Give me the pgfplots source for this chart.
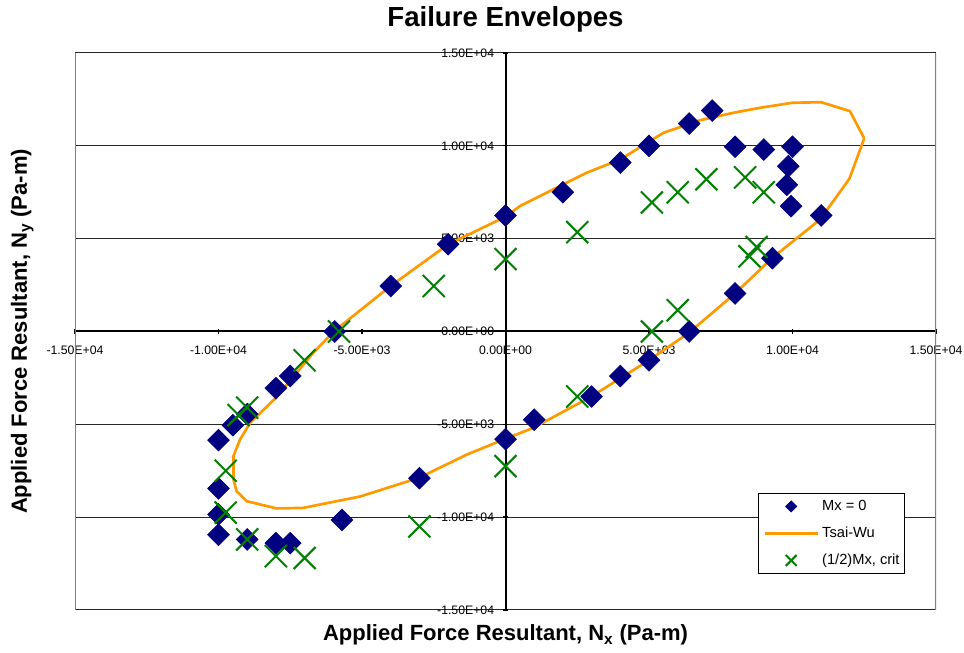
\documentclass[border=0pt]{standalone}
\usepackage{fontspec}
\setmainfont{Liberation Sans}
\usepackage{pgfplots}
\pgfplotsset{compat=1.18}
\definecolor{navyc}{RGB}{0,0,128}
\definecolor{orangec}{RGB}{255,153,0}
\definecolor{greenc}{RGB}{0,128,0}
\definecolor{bordergray}{RGB}{128,128,128}
\pgfplotsset{
  markleg/.style={legend image code/.code={\path (0pt,0pt) (40pt,0pt); \draw[mark repeat=2,mark phase=2,##1] plot coordinates {(0pt,0pt) (20pt,0pt) (40pt,0pt)};}},
  lineleg/.style={legend image code/.code={\draw[##1] (0pt,0pt) -- (40pt,0pt);}},
}
\begin{document}
\begin{tikzpicture}
\begin{axis}[
  scale only axis,
  width=645.75pt, height=417.75pt,
  xmin=-15000, xmax=15000, ymin=-15000, ymax=15000,
  scaled ticks=false,
  axis lines=middle,
  axis line style={black, line width=1.5pt, -},
  xtick={-15000,-10000,-5000,0,5000,10000,15000},
  ytick={-15000,-10000,-5000,0,5000,10000,15000},
  xticklabels={-1.50E+04,-1.00E+04,-5.00E+03,0.00E+00,5.00E+03,1.00E+04,1.50E+04},
  yticklabels={-1.50E+04,-1.00E+04,-5.00E+03,0.00E+00,5.00E+03,1.00E+04,1.50E+04},
  hide obscured x ticks=false, hide obscured y ticks=false,
  ymajorgrids, grid style={black!85, line width=0.75pt},
  tick style={black, line width=1pt},
  major tick length=4pt,
  tick align=center,
  ticklabel style={font=\fontsize{9.2pt}{11pt}\selectfont},
  xticklabel style={yshift=-5pt},
  yticklabel style={xshift=-3pt},
  every axis title shift=0pt,
  title={\textbf{Failure Envelopes}},
  title style={font=\fontsize{20.7pt}{24pt}\selectfont, at={(rel axis cs:0.5,1)}, anchor=center, yshift=25pt},
  xlabel={\textbf{Applied Force Resultant, N\textsubscript{x} (Pa-m)}},
  xlabel style={font=\fontsize{16.5pt}{19pt}\selectfont, at={(rel axis cs:0.5,0)}, anchor=center, yshift=-18.75pt},
  ylabel={\textbf{Applied Force Resultant, N\textsubscript{y} (Pa-m)}},
  ylabel style={font=\fontsize{16.5pt}{19pt}\selectfont, at={(rel axis cs:0,0.5)}, anchor=center, xshift=-39.5pt, rotate=90},
  legend style={at={(rel axis cs:0.793,0.210)}, anchor=north west, draw=black, line width=0.6pt,
    font=\fontsize{11pt}{13pt}\selectfont, inner xsep=3.75pt, inner ysep=4.25pt,
    nodes={inner sep=0pt, text height=8.5pt, text depth=2.5pt}, row sep=9.25pt,
    cells={anchor=west},
    /tikz/every odd column/.append style={column sep=2.25pt}},
]
\addlegendimage{markleg, only marks, mark=square*, mark options={rotate=45, fill=navyc, draw=navyc}, mark size=2.9pt}
\addlegendentry{Mx = 0}
\addlegendimage{lineleg, orangec, line width=2pt}
\addlegendentry{Tsai-Wu}
\addlegendimage{markleg, only marks, mark=x, mark options={draw=greenc, line width=1.5pt}, mark size=5.8pt}
\addlegendentry{(1/2)Mx, crit}

% gray plot-area border, left and right
\draw[bordergray, line width=1.2pt] (rel axis cs:0,0) -- (rel axis cs:0,1);
\draw[bordergray, line width=1.2pt] (rel axis cs:1,0) -- (rel axis cs:1,1);

% Tsai-Wu envelope
\addplot[forget plot, orangec, line width=2pt, mark=none] coordinates {
(12500,10400) (12000,11870) (11000,12350) (10000,12320) (8870,12050)
(7940,11780) (6780,11380) (5500,10700) (3990,9260) (2830,8550)
(500,6750) (0,6180) (-2000,4690) (-4010,2440) (-5970,20)
(-6700,-1150) (-8000,-3570) (-8900,-4920) (-9250,-5820) (-9480,-6720)
(-9480,-7970) (-9370,-8600) (-9020,-9140) (-7970,-9530) (-7050,-9500)
(-5070,-8890) (-3010,-7880) (-1350,-6630) (0,-5780) (970,-5190)
(2970,-3520) (5000,-1550) (6390,-70) (8000,2050) (9300,3970)
(10960,6030) (11980,8220) (12500,10400)
};

% Mx = 0
\addplot[forget plot, only marks, mark=square*, mark size=5.8pt, mark options={rotate=45, fill=navyc, draw=navyc}] coordinates {
(-7500,-2400) (-8000,-3050) (-9000,-4450) (-9500,-5050) (-10000,-5850)
(-10000,-8450) (-10000,-9850) (-10000,-10950) (-9000,-11200) (-8000,-11400)
(-7500,-11400) (-5700,-10150) (0,6250) (-2000,4700) (-4000,2450)
(-5950,0) (2000,7500) (4000,9100) (5000,10000) (6400,11200)
(7200,11900) (8000,9950) (9000,9800) (10000,9950) (9850,8900)
(9800,7900) (9950,6750) (11000,6250) (9300,3950) (8000,2050)
(6400,0) (5000,-1550) (4000,-2400) (3000,-3500) (1000,-4750)
(0,-5800) (-3000,-7900)
};

% (1/2)Mx, crit
\addplot[forget plot, only marks, mark=x, mark size=11.7pt, mark options={draw=greenc, line width=1.5pt}] coordinates {
(-7000,-1550) (-9000,-4100) (-9300,-4500) (-9750,-7500) (-9750,-9750)
(-9000,-11200) (-8000,-12100) (-7000,-12200) (-5800,0) (-2500,2450)
(0,3900) (2500,5350) (5100,6950) (6000,7500) (7000,8200)
(8350,8300) (9000,7500) (8750,4550) (8500,4050) (6000,1150)
(5100,0) (2500,-3500) (0,-7250) (-3000,-10500)
};

\coordinate (SW) at (rel axis cs:0,0);
\coordinate (NE) at (rel axis cs:1,1);
\end{axis}
\pgfresetboundingbox
\path[use as bounding box] ([shift={(-56.25pt,-32.25pt)}]SW) rectangle ([shift={(21pt,39.75pt)}]NE);
\end{tikzpicture}
\end{document}
